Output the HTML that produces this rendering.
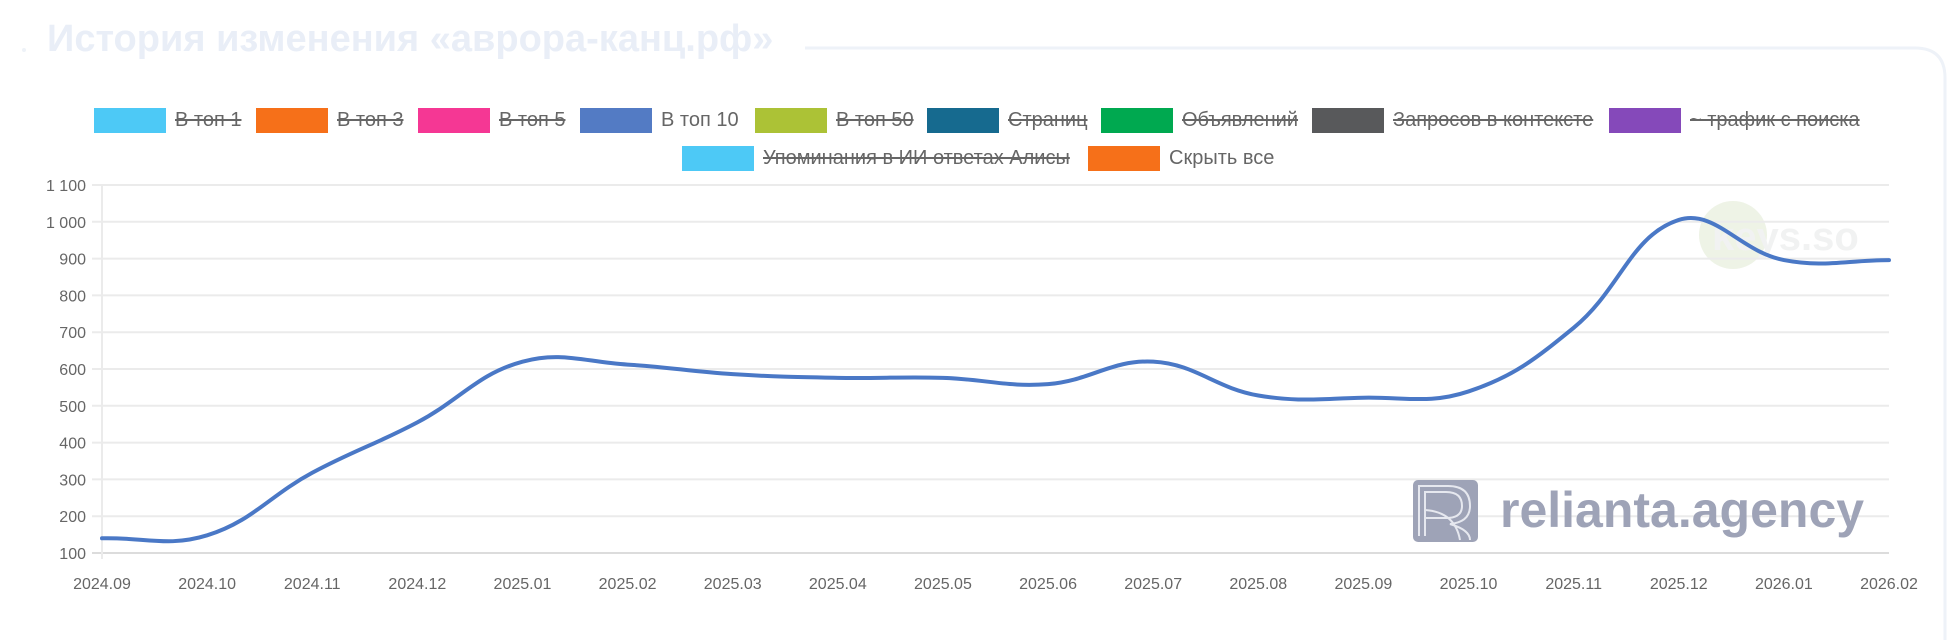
<!DOCTYPE html>
<html><head><meta charset="utf-8">
<style>
html,body{margin:0;padding:0;background:#fff;}
body{width:1956px;height:640px;overflow:hidden;position:relative;font-family:"Liberation Sans",sans-serif;}
.t{position:absolute;left:47px;top:18px;font-size:38px;font-weight:bold;color:#e9eef7;white-space:nowrap;}
.lg{position:absolute;height:25px;width:72px;}
.lt{position:absolute;font-size:20px;color:#666;white-space:nowrap;line-height:22px;}
.s{text-decoration:line-through;}
</style></head><body>
<div class="t">История изменения «аврора-канц.рф»</div>
<svg width="1956" height="640" style="position:absolute;left:0;top:0">
<path d="M805 48 H1915 Q1945 48 1945 78 V640" fill="none" stroke="#eef2f8" stroke-width="3"/>
<circle cx="24" cy="50" r="2" fill="#eef2f8"/>
</svg>
<div id="legend"></div>
<svg id="chart" width="1956" height="640" style="position:absolute;left:0;top:0"></svg>
<script>
const categories=["2024.09","2024.10","2024.11","2024.12","2025.01","2025.02","2025.03","2025.04","2025.05","2025.06","2025.07","2025.08","2025.09","2025.10","2025.11","2025.12","2026.01","2026.02"];
const top10Values=[140,148,318,455,620,612,586,576,576,559,620,528,522,539,712,1005,896,896];
const yTicks=[100,200,300,400,500,600,700,800,900,1000,1100];
const yTickLabels=["100","200","300","400","500","600","700","800","900","1 000","1 100"];
const legendNames=["В топ 1","В топ 3","В топ 5","В топ 10","В топ 50","Страниц","Объявлений","Запросов в контексте","~ трафик с поиска","Упоминания в ИИ ответах Алисы","Скрыть все"];
const legendColors=["#4dc9f6","#f67019","#f53794","#537bc4","#acc236","#166a8f","#00a950","#58595b","#8549ba","#4dc9f6","#f67019"];
const legendHidden=[true,true,true,false,true,true,true,true,true,true,false];

const lgBox=[[94,108],[256,108],[418,108],[580,108],[755,108],[927,108],[1101,108],[1312,108],[1609,108],[682,146],[1088,146]];
const lg=document.getElementById('legend');
legendNames.forEach((n,i)=>{
  const b=document.createElement('div');
  b.className='lg';b.style.left=lgBox[i][0]+'px';b.style.top=lgBox[i][1]+'px';b.style.background=legendColors[i];
  
  
  lg.appendChild(b);
  const t=document.createElement('div');
  t.className='lt'+(legendHidden[i]?' s':'');t.textContent=n;
  t.style.left=(lgBox[i][0]+81)+'px';t.style.top=(lgBox[i][1]+1)+'px';
  
  
  lg.appendChild(t);
});

const NS='http://www.w3.org/2000/svg';
const svg=document.getElementById('chart');
const X0=102,X1=1889,Y0=553,Y1=185,VMIN=100,VMAX=1100;
const xs=i=>X0+(X1-X0)*i/(categories.length-1);
const ys=v=>Y0-(Y0-Y1)*(v-VMIN)/(VMAX-VMIN);
function mk(tag,attrs){const e=document.createElementNS(NS,tag);for(const k in attrs)e.setAttribute(k,attrs[k]);svg.appendChild(e);return e;}

let c=mk('circle',{cx:1733,cy:235,r:34,fill:'#eef3e6'});


let kt=mk('text',{x:1712,y:250,'font-size':40,'font-family':'Liberation Sans, sans-serif','font-weight':'bold',fill:'#f1f2f2'});kt.textContent='keys.so';



yTicks.forEach((v,i)=>{
  const y=ys(v);
  const g=mk('line',{x1:X0-10,x2:X1,y1:y,y2:y,stroke:i===0?'#dcdcdc':'#ebebeb','stroke-width':2});
  
  
  const t=mk('text',{x:X0-16,y:y+6,'text-anchor':'end','font-size':16,fill:'#666','font-family':'Liberation Sans, sans-serif'});
  t.textContent=yTickLabels[i];
  
  
});
let ax=mk('line',{x1:X0,x2:X0,y1:Y1,y2:Y0+6,stroke:'#ebebeb','stroke-width':2});


categories.forEach((c,i)=>{
  const t=mk('text',{x:xs(i),y:589,'text-anchor':'middle','font-size':16,fill:'#666','font-family':'Liberation Sans, sans-serif'});
  t.textContent=c;
  
  
});

let lr=mk('rect',{x:1413,y:480,width:65,height:62,rx:5,fill:'#9ea3b7'});


mk('path',{d:'M1419 536 V486 H1448 Q1470 486 1470 506 Q1470 522 1450 524 Q1470 530 1470 540 M1425 536 V492 H1446 Q1462 492 1462 506 Q1462 518 1446 518 H1425 M1425 510 Q1455 512 1460 540',fill:'none',stroke:'#e6e8ef','stroke-width':2});
let lt=mk('text',{x:1500,y:527,'font-size':50,'font-weight':'bold','font-family':'Liberation Sans, sans-serif',fill:'#9ea3b7'});
lt.textContent='relianta.agency';



const pts=top10Values.map((v,i)=>[xs(i),ys(v)]);
const T=0.4;
let d='M'+pts[0][0]+' '+pts[0][1];
const cps=pts.map((p,i)=>{
  const pr=pts[Math.max(i-1,0)],nx=pts[Math.min(i+1,pts.length-1)];
  const d01=Math.hypot(p[0]-pr[0],p[1]-pr[1]),d12=Math.hypot(nx[0]-p[0],nx[1]-p[1]);
  let fa=d01/(d01+d12)||0,fb=d12/(d01+d12)||0;
  fa*=T;fb*=T;
  return {prev:[p[0]-fa*(nx[0]-pr[0]),p[1]-fa*(nx[1]-pr[1])],next:[p[0]+fb*(nx[0]-pr[0]),p[1]+fb*(nx[1]-pr[1])]};
});
for(let i=1;i<pts.length;i++){
  const a=cps[i-1].next,b=cps[i].prev,p=pts[i];
  d+=` C${a[0]} ${a[1]} ${b[0]} ${b[1]} ${p[0]} ${p[1]}`;
}
const ln=mk('path',{d:d,fill:'none',stroke:'#4a78c6','stroke-width':4,'stroke-linejoin':'round','stroke-linecap':'round'});


</script>
</body></html>
